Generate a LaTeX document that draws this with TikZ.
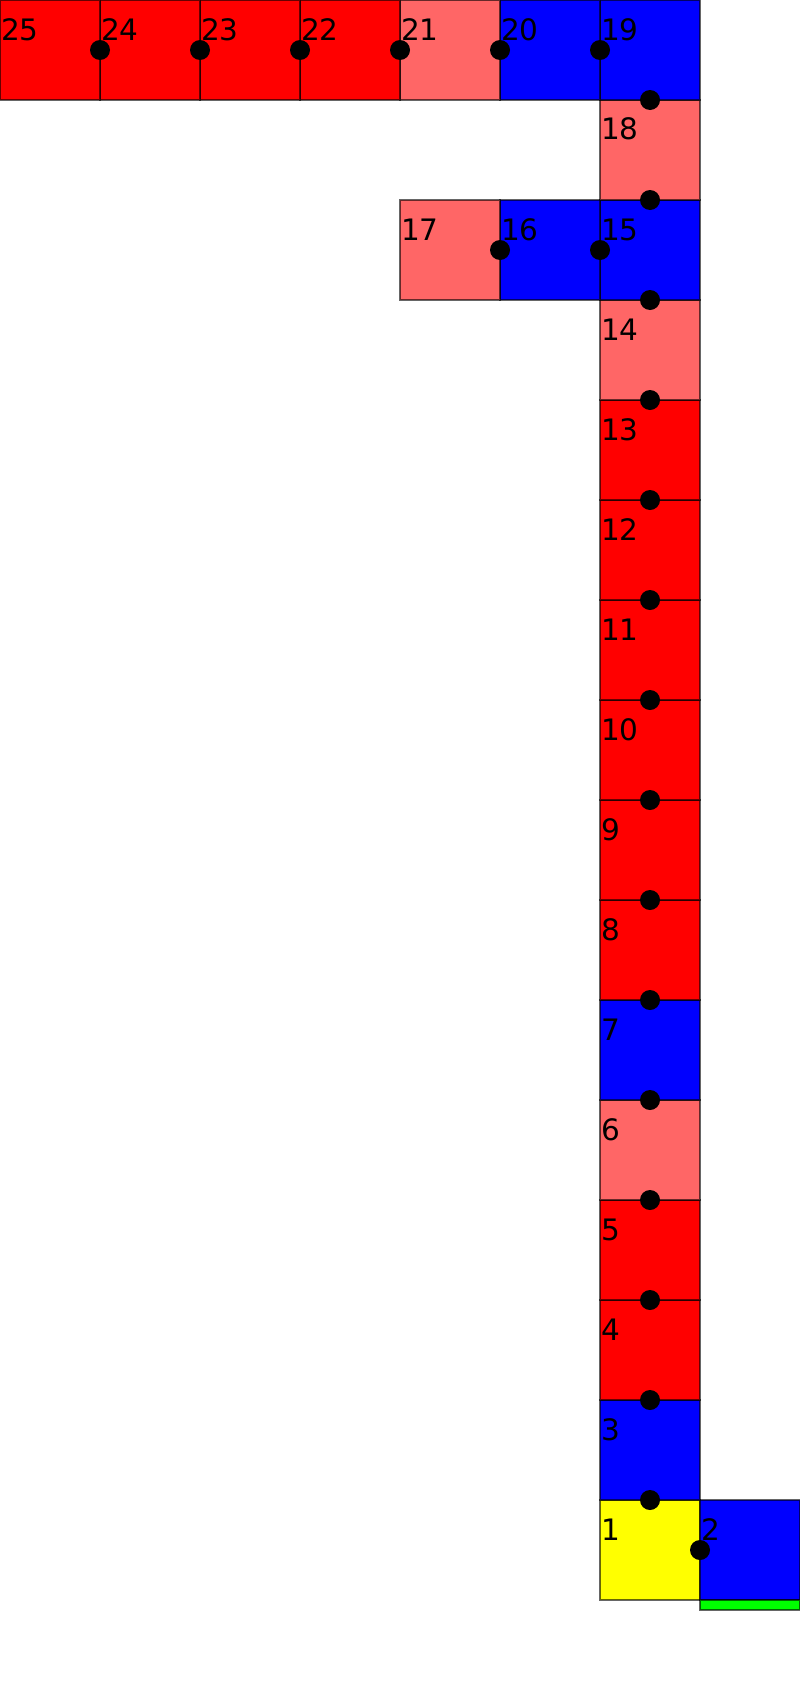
\documentclass[tikz,border=0pt]{standalone}
\usepackage{fontspec}
\setmainfont{DejaVu Sans}
\usetikzlibrary{calc, positioning}
\definecolor{lightred}{RGB}{255,102,102}
\definecolor{cellyellow}{RGB}{255,255,0}
\definecolor{cellgreen}{RGB}{0,255,0}

\begin{document}
\begin{tikzpicture}[
        cell/.style={rectangle, draw=black, draw opacity=0.6, line width=0.35pt, minimum size=1cm, inner sep=0pt, outer sep=0pt},
        joint/.style={circle, fill=black, minimum size=0.2cm, inner sep=0pt},
        num/.style={anchor=base west, inner sep=0pt, font=\fontsize{8.4}{10}\selectfont}
    ]
        \useasboundingbox (0, 0) rectangle (8, -17);

        % Cells of the chain (number/column/row/colour)
        \foreach \n/\cx/\ry/\clr in {1/6/15/cellyellow, 2/7/15/blue, 3/6/14/blue, 4/6/13/red, 5/6/12/red,
                6/6/11/lightred, 7/6/10/blue, 8/6/9/red, 9/6/8/red, 10/6/7/red, 11/6/6/red,
                12/6/5/red, 13/6/4/red, 14/6/3/lightred, 15/6/2/blue, 16/5/2/blue, 17/4/2/lightred,
                18/6/1/lightred, 19/6/0/blue, 20/5/0/blue, 21/4/0/lightred, 22/3/0/red,
                23/2/0/red, 24/1/0/red, 25/0/0/red}
            \node[cell, fill=\clr] (s\n) at (\cx+0.5, -\ry-0.5) {};

        % Strip under cell 2
        \node[cell, fill=cellgreen, minimum height=0.1cm, below=0pt of s2] (strip) {};

        % Numbers
        \foreach \n in {1,...,25}
            \node[num] (t\n) at ($(s\n.north west)+(0.005,-0.40)$) {\n};

        % Joints
        \foreach \n in {1,3,4,5,6,7,8,9,10,11,12,13,14,15,18}
            \node[joint] (jn\n) at (s\n.north) {};
        \foreach \n in {2,15,16,19,20,21,22,23,24}
            \node[joint] (jw\n) at (s\n.west) {};
    \end{tikzpicture}
\end{document}
